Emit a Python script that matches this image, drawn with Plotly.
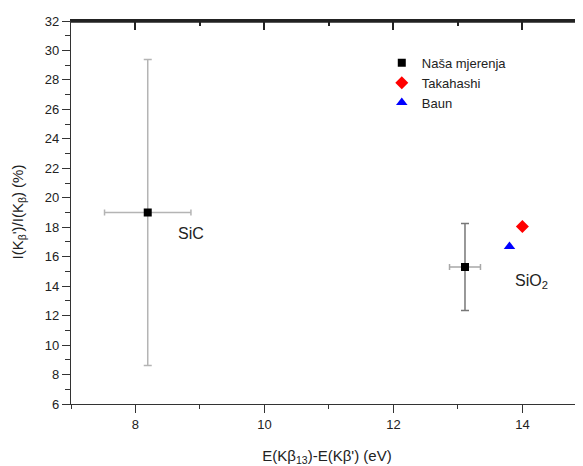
import plotly.graph_objects as go

# Data
meas_x = [8.19, 13.11]
meas_y = [19.0, 15.3]
meas_xerr = [0.67, 0.24]
meas_yerr = [10.38, 2.95]
meas_yerr_color = ["#b4b4b4", "#777777"]
meas_xerr_color = ["#b4b4b4", "#a8a8a8"]
tak_x = [14.0]
tak_y = [18.05]
baun_x = [13.8]
baun_y = [16.7]
labels = ["SiC", "SiO<sub>2</sub>"]
label_x = [8.63, 13.85]
label_y = [17.6, 14.35]
x_range = [7, 14.94]
y_range = [6, 32]

fig = go.Figure()
for i in range(len(meas_x)):
    fig.add_trace(go.Scatter(
        x=[meas_x[i]], y=[meas_y[i]], mode="markers",
        name="Naša mjerenja", legendgroup="m", showlegend=(i == 0),
        marker=dict(symbol="square", size=8, color="black"),
        error_x=dict(type="data", array=[meas_xerr[i]], color=meas_xerr_color[i], thickness=1.5, width=3),
        error_y=dict(type="data", array=[meas_yerr[i]], color=meas_yerr_color[i], thickness=1.5, width=4),
    ))
fig.add_trace(go.Scatter(x=tak_x, y=tak_y, mode="markers", name="Takahashi",
                         marker=dict(symbol="diamond", size=10, color="#ff0000")))
fig.add_trace(go.Scatter(x=baun_x, y=baun_y, mode="markers", name="Baun",
                         marker=dict(symbol="triangle-up", size=10, color="#0000ff")))
# empty traces so the mirror axes (top / right) are drawn
fig.add_trace(go.Scatter(x=[], y=[], xaxis="x2", yaxis="y", showlegend=False, hoverinfo="skip"))
fig.add_trace(go.Scatter(x=[], y=[], xaxis="x3", yaxis="y", showlegend=False, hoverinfo="skip"))
fig.add_trace(go.Scatter(x=[], y=[], xaxis="x", yaxis="y2", showlegend=False, hoverinfo="skip"))

for t, lx, ly in zip(labels, label_x, label_y):
    fig.add_annotation(x=lx, y=ly, text=t, showarrow=False, xanchor="left",
                       font=dict(size=16, color="#222"))

# y-axis title
fig.add_annotation(xref="paper", yref="paper", x=-0.1035, y=0.5, xanchor="center", yanchor="middle",
                   text="I(K<sub>β</sub>')/I(K<sub>β</sub>) (%)", textangle=-90, showarrow=False,
                   font=dict(size=15, color="#222"))

axcol = "#333333"
topcol = "#222222"
# top frame line
fig.add_shape(type="line", xref="paper", yref="paper", x0=0, x1=1, y0=0.998, y1=0.998,
              layer="above", line=dict(color=topcol, width=1.8))

# page body has an 8px default margin: figure is sized/offset to compensate
fig.update_layout(
    width=575, height=458,
    margin=dict(l=63, r=0, t=13, b=62, autoexpand=False),
    paper_bgcolor="white", plot_bgcolor="white",
    font=dict(family="Liberation Sans, Arial, sans-serif", size=12, color="#222"),
    showlegend=True,
    legend=dict(x=0.607, y=0.93, xanchor="left", yanchor="top", bgcolor="rgba(0,0,0,0)",
                font=dict(size=13, color="#222"), tracegroupgap=0),
    xaxis=dict(range=x_range, dtick=2, tick0=8, showgrid=False, zeroline=False, automargin=False,
               showline=True, linecolor=axcol, linewidth=1.3, ticks="outside", ticklen=8,
               tickcolor=axcol, tickwidth=1.3,
               minor=dict(dtick=1, tick0=7, ticks="outside", ticklen=4, tickcolor=axcol, tickwidth=1.3),
               title=dict(text="E(Kβ<sub>13</sub>)-E(Kβ') (eV)", font=dict(size=15), standoff=27),
               tickfont=dict(size=13)),
    yaxis=dict(range=y_range, dtick=2, tick0=6, showgrid=False, zeroline=False, automargin=False,
               showline=True, linecolor=axcol, linewidth=1.3, ticks="outside", ticklen=8,
               tickcolor=axcol, tickwidth=1.3,
               minor=dict(dtick=1, tick0=6, ticks="outside", ticklen=5, tickcolor=axcol, tickwidth=1.3),
               tickfont=dict(size=13)),
    xaxis2=dict(overlaying="x", anchor="y", range=x_range, side="top", showticklabels=False, showgrid=False,
                zeroline=False, showline=True, linecolor=topcol, linewidth=2, automargin=False,
                ticks="inside", ticklen=9, tickcolor=topcol, tickwidth=1.8, dtick=2, tick0=8),
    xaxis3=dict(overlaying="x", anchor="y", range=x_range, side="top", showticklabels=False, showgrid=False,
                zeroline=False, showline=False, automargin=False,
                ticks="inside", ticklen=5, tickcolor=topcol, tickwidth=1.8, dtick=1, tick0=7),
    yaxis2=dict(overlaying="y", anchor="x", range=y_range, side="right", showticklabels=False, showgrid=False,
                zeroline=False, showline=False, automargin=False,
                ticks="inside", ticklen=4, tickcolor=axcol, tickwidth=1.3, dtick=2, tick0=6,
                minor=dict(dtick=1, tick0=6, ticks="inside", ticklen=2, tickcolor="#aaa", tickwidth=1)),
)

fig.write_html("out.html")
